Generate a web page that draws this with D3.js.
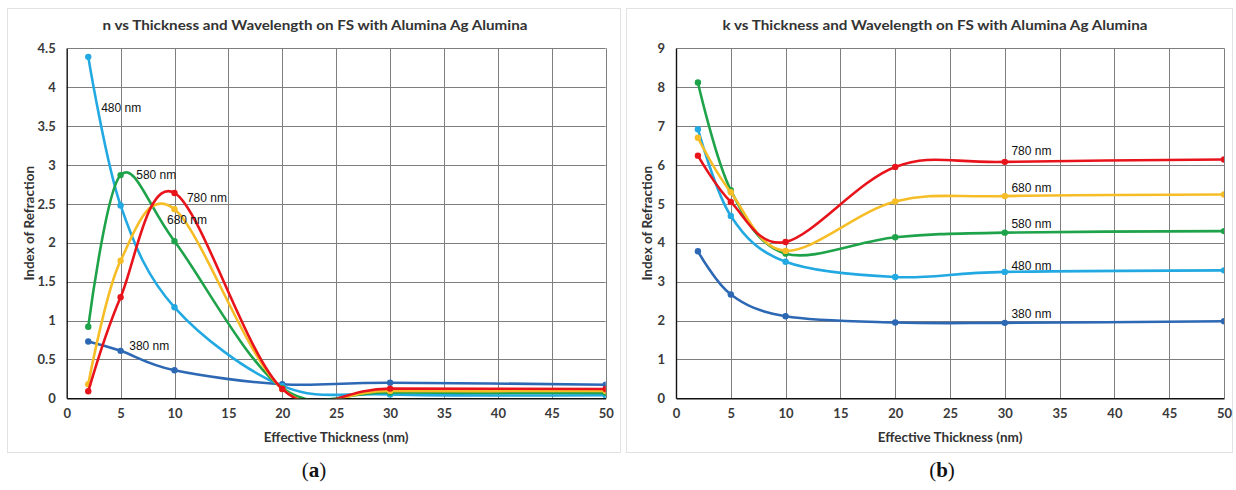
<!DOCTYPE html>
<html>
<head>
<meta charset="utf-8">
<script src="https://cdn.jsdelivr.net/npm/d3@7"></script>
<style>
  html, body { margin: 0; padding: 0; background: #fff; }
  svg { display: block; }
</style>
</head>
<body>
<svg id="fig" width="1236" height="490"></svg>
<script>
// Effective layer thickness (nm) at which n and k were evaluated
const thickness = [2, 5, 10, 20, 30, 50];
const wavelengths = ["380 nm", "480 nm", "580 nm", "680 nm", "780 nm"];
const seriesColors = ["#2d68b4", "#22a9e1", "#1fa34a", "#f6bd27", "#e8141c"];

// Refractive index n
const n380 = [0.73, 0.61, 0.36, 0.18, 0.20, 0.175];
const n480 = [4.39, 2.48, 1.17, 0.16, 0.05, 0.04];
const n580 = [0.92, 2.87, 2.02, 0.13, 0.075, 0.07];
const n680 = [0.18, 1.77, 2.43, 0.12, 0.095, 0.094];
const n780 = [0.09, 1.30, 2.64, 0.12, 0.125, 0.12];

// Extinction coefficient k
const k380 = [3.78, 2.67, 2.11, 1.95, 1.94, 1.98];
const k480 = [6.92, 4.69, 3.51, 3.12, 3.25, 3.29];
const k580 = [8.12, 5.35, 3.72, 4.14, 4.26, 4.30];
const k680 = [6.70, 5.30, 3.79, 5.06, 5.20, 5.24];
const k780 = [6.24, 5.05, 4.02, 5.95, 6.08, 6.14];

// Tick labels
const xTicks = [0, 5, 10, 15, 20, 25, 30, 35, 40, 45, 50];
const nTicks = [0, 0.5, 1, 1.5, 2, 2.5, 3, 3.5, 4, 4.5];
const kTicks = [0, 1, 2, 3, 4, 5, 6, 7, 8, 9];

const svg = d3.select("#fig");
const uiFont = "Lato, 'Open Sans', sans-serif";

function drawPanel(opt) {
  const g = svg.append("g");

  // panel frame
  g.append("rect")
    .attr("x", opt.frame[0] + 0.5).attr("y", opt.frame[1] + 0.5)
    .attr("width", opt.frame[2]).attr("height", opt.frame[3])
    .attr("fill", "#fff").attr("stroke", "#e2e2e2");

  const x = d3.scaleLinear().domain([0, 50]).range([opt.plot.left, opt.plot.right]);
  const y = d3.scaleLinear().domain([0, opt.yMax]).range([opt.plot.bottom, opt.plot.top]);

  // grid
  g.append("g").selectAll("line").data(opt.yTicks.filter(d => d > 0)).join("line")
    .attr("x1", opt.plot.left).attr("x2", opt.plot.right)
    .attr("y1", d => Math.round(y(d)) + 0.5).attr("y2", d => Math.round(y(d)) + 0.5)
    .attr("stroke", "#7e7e7e").attr("stroke-width", 1);
  g.append("g").selectAll("line").data(xTicks.filter(d => d > 0)).join("line")
    .attr("y1", opt.plot.top).attr("y2", opt.plot.bottom)
    .attr("x1", d => Math.round(x(d)) + 0.5).attr("x2", d => Math.round(x(d)) + 0.5)
    .attr("stroke", "#7e7e7e").attr("stroke-width", 1);

  // axes (labels only, no tick marks)
  const xAxis = g.append("g").attr("transform", `translate(0,${opt.plot.bottom})`)
    .call(d3.axisBottom(x).tickValues(xTicks).tickSize(0).tickPadding(10).tickFormat(d3.format("d")));
  const yAxis = g.append("g").attr("transform", `translate(${opt.plot.left},0)`)
    .call(d3.axisLeft(y).tickValues(opt.yTicks).tickSize(0).tickPadding(11).tickFormat(d => String(d)));
  [xAxis, yAxis].forEach(a => {
    a.select(".domain").attr("stroke", "#111").attr("stroke-width", 1.4);
    a.selectAll("text").attr("font-family", uiFont).attr("font-weight", 700)
      .attr("font-size", 13).attr("fill", "#3a3a3a");
  });

  // curves, clipped to the plot rectangle
  const clipId = "clip-" + opt.id;
  svg.append("clipPath").attr("id", clipId).append("rect")
    .attr("x", opt.plot.left).attr("y", opt.plot.top)
    .attr("width", opt.plot.right - opt.plot.left).attr("height", opt.plot.bottom - opt.plot.top);

  const line = d3.line()
    .x((d, i) => x(thickness[i]))
    .y(d => y(d))
    .curve(d3.curveCardinal.tension(0));

  const layer = g.append("g").attr("clip-path", `url(#${clipId})`);
  opt.series.forEach((vals, si) => {
    layer.append("path").attr("d", line(vals)).attr("fill", "none")
      .attr("stroke", seriesColors[si]).attr("stroke-width", 2.6)
      .attr("stroke-linejoin", "round");
    layer.append("g").selectAll("circle").data(vals).join("circle")
      .attr("cx", (d, i) => x(thickness[i])).attr("cy", d => y(d)).attr("r", 3.2)
      .attr("fill", seriesColors[si]);
  });

  // series annotations
  opt.labels.forEach((p, si) => {
    g.append("text").attr("x", x(p[0])).attr("y", y(p[1]))
      .attr("dy", "0.35em").attr("font-family", "'Liberation Sans', Arial, sans-serif")
      .attr("font-size", 12).attr("fill", "#111").text(wavelengths[si]);
  });

  // titles
  g.append("text").attr("x", opt.titleX).attr("y", 30).attr("text-anchor", "middle")
    .attr("font-family", uiFont).attr("font-weight", 700).attr("font-size", 14)
    .attr("fill", "#333").attr("textLength", 425).attr("lengthAdjust", "spacingAndGlyphs")
    .text(opt.title);
  g.append("text").attr("x", (opt.plot.left + opt.plot.right) / 2).attr("y", 437)
    .attr("text-anchor", "middle").attr("dy", "0.35em")
    .attr("font-family", uiFont).attr("font-weight", 700).attr("font-size", 13.5)
    .attr("fill", "#333").text("Effective Thickness (nm)");
  g.append("text")
    .attr("transform", `translate(${opt.yTitleX},${(opt.plot.top + opt.plot.bottom) / 2}) rotate(-90)`)
    .attr("text-anchor", "middle").attr("dy", "0.35em")
    .attr("font-family", uiFont).attr("font-weight", 700).attr("font-size", 13.5)
    .attr("fill", "#333").text("Index of Refraction");

  // sub-figure tag
  const tag = svg.append("text").attr("x", opt.tagX).attr("y", 477).attr("text-anchor", "middle")
    .attr("font-family", "'Liberation Serif', 'DejaVu Serif', serif").attr("font-size", 21).attr("fill", "#111");
  tag.append("tspan").text("(");
  tag.append("tspan").attr("font-weight", 700).text(opt.tag);
  tag.append("tspan").text(")");
}

drawPanel({
  id: "n",
  frame: [7, 8, 613, 444],
  plot: { left: 66.7, right: 605.7, top: 48.3, bottom: 398.3 },
  yMax: 4.5, yTicks: nTicks,
  series: [n380, n480, n580, n680, n780],
  labels: [[5.8, 0.68], [3.2, 3.74], [6.45, 2.875], [9.3, 2.30], [11.15, 2.58]],
  title: "n vs Thickness and Wavelength on FS with Alumina Ag Alumina",
  titleX: 315, yTitleX: 29, tag: "a", tagX: 314
});

drawPanel({
  id: "k",
  frame: [626, 8, 606, 444],
  plot: { left: 676, right: 1224, top: 48.3, bottom: 398.3 },
  yMax: 9, yTicks: kTicks,
  series: [k380, k480, k580, k680, k780],
  labels: [[30.6, 2.18], [30.6, 3.42], [30.6, 4.50], [30.6, 5.41], [30.6, 6.36]],
  title: "k vs Thickness and Wavelength on FS with Alumina Ag Alumina",
  titleX: 935, yTitleX: 647, tag: "b", tagX: 942
});
</script>
</body>
</html>
